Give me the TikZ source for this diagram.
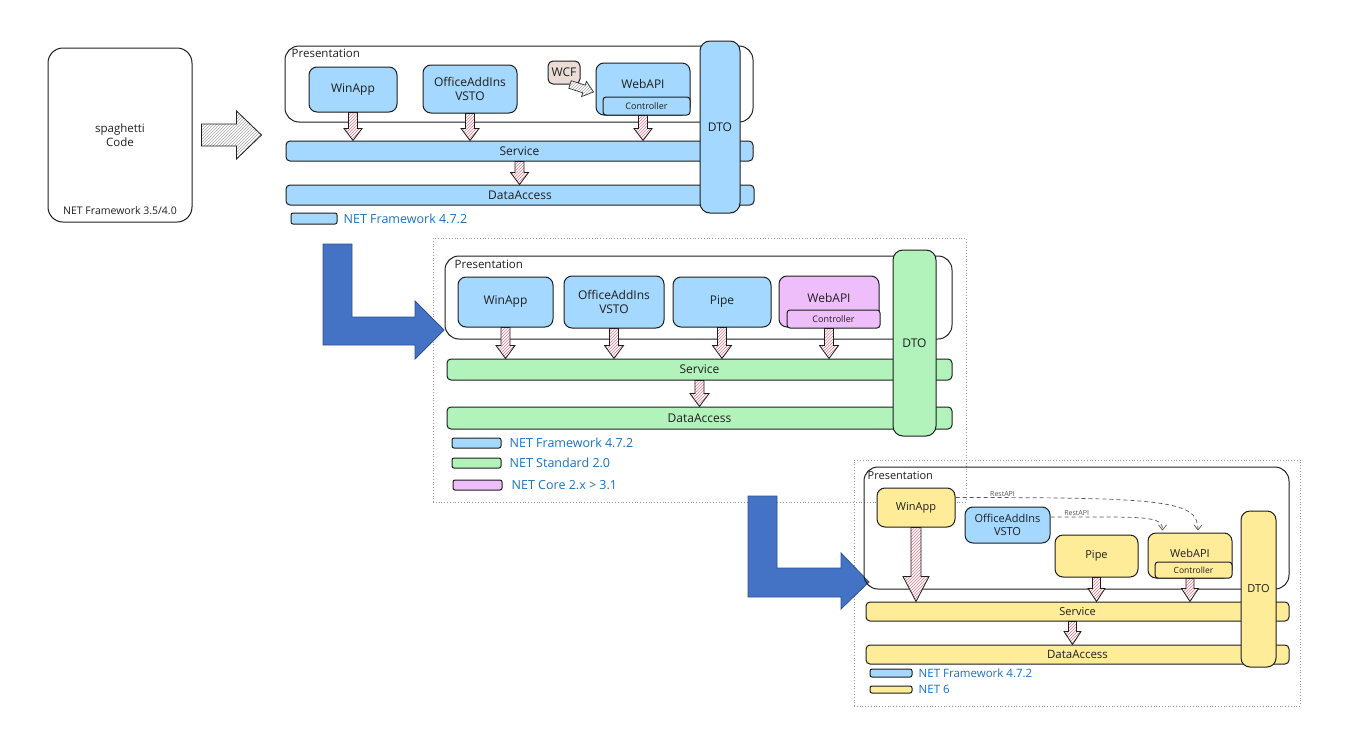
\documentclass[tikz,border=0pt]{standalone}
\usepackage{fontspec}
\setmainfont{Open Sans}
\usetikzlibrary{calc,patterns,arrows.meta}
\definecolor{ink}{HTML}{1E1E1E}
\definecolor{fwblue}{HTML}{A5D8FF}
\definecolor{stdgreen}{HTML}{B2F2BB}
\definecolor{corepink}{HTML}{EEBEFA}
\definecolor{netyellow}{HTML}{FFEC99}
\definecolor{wcfbeige}{HTML}{EADDD7}
\definecolor{legblue}{HTML}{1971C2}
\definecolor{hatchred}{HTML}{E8788A}
\definecolor{arrowblue}{HTML}{4472C4}
\definecolor{arrowedge}{HTML}{2F528F}
\definecolor{restgray}{HTML}{555555}
% fat block arrow: [style]{from}{to}{shaft half width}{head half width}{head length}
\newcommand{\fatarrow}[6][]{%
  \draw[#1] ($(#2)!#4!90:(#3)$) -- ($(#3)!#6!(#2)!#4!-90:(#2)$)
    -- ($(#3)!#6!(#2)!#5!-90:(#2)$) -- (#3)
    -- ($(#3)!#6!(#2)!#5!90:(#2)$) -- ($(#3)!#6!(#2)!#4!90:(#2)$)
    -- ($(#2)!#4!-90:(#3)$) -- cycle;}
\begin{document}
\begin{tikzpicture}[x=1pt,y=-1pt,
  app/.style={draw=ink, line width=1pt, rounded corners=8pt, inner sep=0pt, text=ink, font=\fontsize{12}{14}\selectfont},
  bar/.style={app, rounded corners=4pt},
  pres/.style={draw=ink, line width=1pt, rounded corners=14pt},
  prestxt/.style={anchor=north west, inner sep=0pt, text=ink, font=\fontsize{11.5}{13}\selectfont},
  ctrl/.style={app, rounded corners=3pt, font=\fontsize{9}{11}\selectfont},
  legbox/.style={draw=ink, line width=1pt, rounded corners=2pt, inner sep=0pt},
  legtxt/.style={anchor=west, inner sep=0pt, text=legblue, font=\fontsize{12.5}{14}\selectfont},
  tierframe/.style={draw=gray!80, dotted, line width=0.8pt, inner sep=0pt},
  hatch/.style={draw=ink, line width=0.8pt, preaction={fill=white}, pattern=north east lines, pattern color=hatchred},
  ghatch/.style={hatch, pattern color=gray!70},
  bigarrow/.style={fill=arrowblue, draw=arrowedge, line width=0.8pt},
  rest/.style={draw=restgray, line width=0.7pt, dash pattern=on 4pt off 3pt, -{Straight Barb[length=5pt,width=8pt]}},
  resttxt/.style={font=\fontsize{7}{8}\selectfont, text=restgray, inner sep=1pt}
]
\useasboundingbox (0,0) rectangle (1353,755);

%% legacy
\node[app, minimum width=144, minimum height=174, rounded corners=15pt, align=center, font=\fontsize{11.5}{14}\selectfont] (spag) at (120,135) {spaghetti\\Code};
\node[text=ink, font=\fontsize{10.5}{12}\selectfont] (spagver) at (120,211) {NET Framework 3.5/4.0};

%% NET Framework 4.7.2
\node[pres, minimum width=468, minimum height=76] (pres1) at (519,84) {};
\node[prestxt] at ([xshift=7pt,yshift=-3pt]pres1.north west) {Presentation};
\node[app, fill=fwblue, minimum width=88, minimum height=45] (winapp1) at (353,89.5) {WinApp};
\node[app, fill=fwblue, minimum width=94, minimum height=48, align=center] (office1) at (470,89) {OfficeAddIns\\VSTO};
\node[app, fill=wcfbeige, minimum width=32, minimum height=23, rounded corners=5pt] (wcf) at (564,72.5) {WCF};
\node[app, fill=fwblue, minimum width=94, minimum height=52] (webapi1) at (643,89) {};
\node[text=ink, font=\fontsize{12}{14}\selectfont] at ([yshift=5pt]webapi1.center) {WebAPI};
\node[ctrl, fill=fwblue, minimum width=87, minimum height=18] (ctrl1) at (646.5,106) {Controller};
\node[bar, fill=fwblue, minimum width=467, minimum height=20] (svc1) at (519.5,151) {Service};
\node[bar, fill=fwblue, minimum width=468, minimum height=20] (da1) at (520,195) {DataAccess};
\node[app, fill=fwblue, minimum width=40, minimum height=172, rounded corners=10pt] (dto1) at (720,127) {DTO};
\node[legbox, fill=fwblue, minimum width=46, minimum height=11] (leg1a) at (314,218.5) {};
\node[legtxt] at ([xshift=6pt]leg1a.east) {NET Framework 4.7.2};

\coordinate (g1) at ([xshift=9pt]spag.east);
\coordinate (g2) at ([xshift=-23pt]pres1.west |- spag.east);
\fatarrow[ghatch]{g1}{g2}{11pt}{24pt}{25pt}
\coordinate (w1) at ([xshift=6pt]wcf.south);
\coordinate (w2) at ([xshift=-2pt,yshift=-3pt]webapi1.west);
\fatarrow[ghatch, line width=0.6pt]{w1}{w2}{4pt}{8pt}{10pt}
\coordinate (t1) at (winapp1.south |- svc1.north);
\coordinate (t2) at (office1.south |- svc1.north);
\coordinate (t3) at (webapi1.south |- svc1.north);
\coordinate (t4) at (svc1.south |- da1.north);
\fatarrow[hatch]{winapp1.south}{t1}{4.5pt}{9pt}{12pt}
\fatarrow[hatch]{office1.south}{t2}{4.5pt}{9pt}{12pt}
\fatarrow[hatch]{webapi1.south}{t3}{4.5pt}{9pt}{12pt}
\fatarrow[hatch]{svc1.south}{t4}{4.5pt}{9pt}{12pt}

%% NET Standard 2.0
\node[tierframe, minimum width=533, minimum height=264] (frame2) at (699.5,370) {};
\draw[bigarrow] (323,244) -- (352,244) -- (352,317) -- (415,317) -- (415,301) -- (444,330)
  -- (415,359) -- (415,345) -- (323,345) -- cycle;
\node[pres, minimum width=507, minimum height=83] (pres2) at (698.5,297.5) {};
\node[prestxt] at ([xshift=10pt,yshift=-4pt]pres2.north west) {Presentation};
\node[app, fill=fwblue, minimum width=95, minimum height=50] (winapp2) at (505.5,302) {WinApp};
\node[app, fill=fwblue, minimum width=100, minimum height=52, align=center] (office2) at (614,302) {OfficeAddIns\\VSTO};
\node[app, fill=fwblue, minimum width=98, minimum height=50] (pipe2) at (722,302) {Pipe};
\node[app, fill=corepink, minimum width=100, minimum height=51] (webapi2) at (829,301.5) {};
\node[text=ink, font=\fontsize{12}{14}\selectfont] at ([yshift=4pt]webapi2.center) {WebAPI};
\node[ctrl, fill=corepink, minimum width=93, minimum height=18] (ctrl2) at (833.5,319) {Controller};
\node[bar, fill=stdgreen, minimum width=505, minimum height=21] (svc2) at (699.5,369.5) {Service};
\node[bar, fill=stdgreen, minimum width=505, minimum height=22] (da2) at (699.5,418) {DataAccess};
\node[app, fill=stdgreen, minimum width=43, minimum height=186, rounded corners=10pt] (dto2) at (914.5,343) {DTO};
\node[legbox, fill=fwblue, minimum width=49, minimum height=10] (leg2a) at (476.5,443) {};
\node[legbox, fill=stdgreen, minimum width=49, minimum height=10] (leg2b) at (476.5,463) {};
\node[legbox, fill=corepink, minimum width=49, minimum height=10] (leg2c) at (477.5,485) {};
\node[legtxt] at ([xshift=8pt]leg2a.east) {NET Framework 4.7.2};
\node[legtxt] at ([xshift=8pt]leg2b.east) {NET Standard 2.0};
\node[legtxt] at ([xshift=9pt]leg2c.east) {NET Core 2.x > 3.1};
\coordinate (m1) at (winapp2.south |- svc2.north);
\coordinate (m2) at (office2.south |- svc2.north);
\coordinate (m3) at (pipe2.south |- svc2.north);
\coordinate (m4) at (ctrl2.south -| webapi2.south);
\coordinate (m5) at (webapi2.south |- svc2.north);
\coordinate (m6) at (svc2.south |- da2.north);
\fatarrow[hatch]{winapp2.south}{m1}{4.5pt}{9.5pt}{13pt}
\fatarrow[hatch]{office2.south}{m2}{4.5pt}{9.5pt}{13pt}
\fatarrow[hatch]{pipe2.south}{m3}{4.5pt}{9.5pt}{13pt}
\fatarrow[hatch]{m4}{m5}{4.5pt}{9.5pt}{13pt}
\fatarrow[hatch]{svc2.south}{m6}{4.5pt}{9.5pt}{13pt}

%% NET 6
\node[tierframe, minimum width=446, minimum height=246] (frame3) at (1077,583) {};
\draw[bigarrow] (748,496) -- (777,496) -- (777,568) -- (841,568) -- (841,553) -- (869,582)
  -- (841,609) -- (841,597) -- (748,597) -- cycle;
\node[pres, minimum width=425, minimum height=122] (pres3) at (1076.5,528) {};
\node[prestxt, font=\fontsize{11}{13}\selectfont] at ([xshift=4pt,yshift=-5pt]pres3.north west) {Presentation};
\node[app, fill=netyellow, minimum width=78, minimum height=39, font=\fontsize{11}{13}\selectfont] (winapp3) at (916,507.5) {WinApp};
\node[app, fill=fwblue, minimum width=85, minimum height=36, align=center, font=\fontsize{11}{13}\selectfont] (office3) at (1007.5,525) {OfficeAddIns\\VSTO};
\node[app, fill=netyellow, minimum width=83, minimum height=42, font=\fontsize{11}{13}\selectfont] (pipe3) at (1096.5,556) {Pipe};
\node[app, fill=netyellow, minimum width=84, minimum height=45] (webapi3) at (1190,555.5) {};
\node[text=ink, font=\fontsize{11}{13}\selectfont] at ([yshift=2pt]webapi3.center) {WebAPI};
\node[ctrl, fill=netyellow, minimum width=77, minimum height=16, font=\fontsize{8.5}{10}\selectfont] (ctrl3) at (1193.5,570) {Controller};
\node[bar, fill=netyellow, minimum width=423, minimum height=19, font=\fontsize{11}{13}\selectfont] (svc3) at (1077.5,611.5) {Service};
\node[bar, fill=netyellow, minimum width=423, minimum height=19, font=\fontsize{11.5}{13}\selectfont] (da3) at (1077.5,654.5) {DataAccess};
\node[app, fill=netyellow, minimum width=35, minimum height=156, rounded corners=9pt, font=\fontsize{11}{13}\selectfont] (dto3) at (1258.5,589) {DTO};
\node[legbox, fill=fwblue, minimum width=42, minimum height=8] (leg3a) at (891,673) {};
\node[legbox, fill=netyellow, minimum width=42, minimum height=7] (leg3b) at (891,689.5) {};
\node[legtxt, font=\fontsize{11.5}{13}\selectfont] at ([xshift=6pt]leg3a.east) {NET Framework 4.7.2};
\node[legtxt, font=\fontsize{11.5}{13}\selectfont] at ([xshift=6pt]leg3b.east) {NET 6};
\coordinate (b1) at (winapp3.south |- svc3.north);
\coordinate (b2) at (pipe3.south |- svc3.north);
\coordinate (b3) at (ctrl3.south -| webapi3.south);
\coordinate (b4) at (webapi3.south |- svc3.north);
\coordinate (b5) at ([xshift=-5pt]svc3.south);
\coordinate (b6) at (b5 |- da3.north);
\fatarrow[hatch]{winapp3.south}{b1}{5pt}{13pt}{25pt}
\fatarrow[hatch]{pipe3.south}{b2}{4pt}{8.5pt}{13pt}
\fatarrow[hatch]{b3}{b4}{4pt}{8.5pt}{13pt}
\fatarrow[hatch]{b5}{b6}{4pt}{8.5pt}{13pt}
\draw[rest] ([yshift=10pt]winapp3.east) .. controls +(210,0) and +(0,-30) .. ([xshift=8pt,yshift=2pt]webapi3.north)
  node[resttxt, pos=0.08, above] {RestAPI};
\draw[rest] ([yshift=8pt]office3.east) .. controls +(95,0) and +(0,-15) .. ([xshift=15pt,yshift=2pt]webapi3.north west)
  node[resttxt, pos=0.1, above] {RestAPI};
\end{tikzpicture}
\end{document}
